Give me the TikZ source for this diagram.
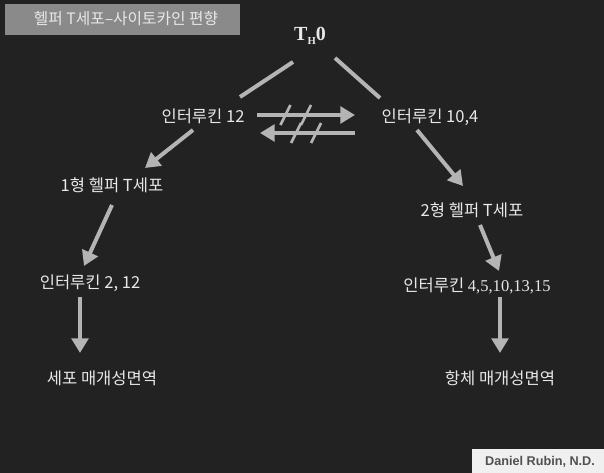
\documentclass[tikz,border=0pt]{standalone}
\usepackage{fontspec}
\setmainfont{Noto Sans CJK KR}
\newfontfamily\serifnum{Liberation Serif}
\newfontfamily\credfont{Liberation Sans}
\usetikzlibrary{arrows.meta,calc}
\definecolor{bgdark}{HTML}{222222}
\definecolor{titlegray}{HTML}{8A8A8A}
\definecolor{arrowgray}{HTML}{B4B4B4}
\definecolor{textlight}{HTML}{E8E8E8}
\definecolor{creditgray}{HTML}{505050}
\tikzset{
  lbl/.style={text=textlight, inner sep=0pt, font=\fontsize{12.4}{14}\selectfont},
  conn/.style={draw=arrowgray, line width=3pt},
  arr/.style={conn, -{Triangle[width=12.5pt,length=11pt]}},
  slashline/.style={draw=arrowgray, line width=2pt},
}
\begin{document}
\begin{tikzpicture}[x=0.75pt,y=-0.75pt]
\fill[bgdark] (0,0) rectangle (604,473);
\useasboundingbox (0,0) rectangle (604,473);
% title
\fill[titlegray] (5,4) rectangle (240,35);
\node[text=textlight, inner sep=0pt, font=\fontsize{11.8}{14}\selectfont] (title) at (126,19) {헬퍼 T세포–사이토카인 편향};
% nodes
\node[text=textlight, inner sep=0pt, font=\serifnum\bfseries\fontsize{15}{17}\selectfont] (th0) at (310,36) {T\raisebox{-0.45ex}{\fontsize{8}{9}\selectfont H}0};
\node[lbl] (il12) at (203,116) {인터루킨 12};
\node[lbl] (il104) at (430,117) {인터루킨 10,4};
\node[lbl] (th1) at (112,185) {1형 헬퍼 T세포};
\node[lbl] (th2) at (472,210) {2형 헬퍼 T세포};
\node[lbl] (il212) at (90,283) {인터루킨 2, 12};
\node[lbl] (il4) at (477,286) {인터루킨 {\serifnum 4,5,10,13,15}};
\node[lbl] (cmi) at (102,378) {세포 매개성면역};
\node[lbl] (hmi) at (500,378) {항체 매개성면역};
% connectors
\draw[conn] ([shift={(-17,26)}]th0.center) -- ([shift={(37,-19)}]il12.center);
\draw[conn] ([shift={(25,22)}]th0.center) -- ([shift={(-50,-19)}]il104.center);
\draw[arr] ([shift={(-10,14)}]il12.center) -- ([shift={(33,-17)}]th1.center);
\draw[arr] ([shift={(0,20)}]th1.center) -- ([shift={(-6,-17)}]il212.center);
\draw[arr] ([shift={(-10,14)}]il212.center) -- ([shift={(-22,-25)}]cmi.center);
\draw[arr] ([shift={(-13,13)}]il104.center) -- ([shift={(-9,-24)}]th2.center);
\draw[arr] ([shift={(8,15)}]th2.center) -- ([shift={(22,-15)}]il4.center);
\draw[arr] ([shift={(23,11)}]il4.center) -- ([shift={(0,-25)}]hmi.center);
% cross-regulation arrows
\draw[arr] ([shift={(54,-1)}]il12.center) -- ([shift={(-75,-2)}]il104.center)
  coordinate[pos=0.29] (s1) coordinate[pos=0.5] (s2);
\draw[arr] ([shift={(-75,16)}]il104.center) -- ([shift={(57,17)}]il12.center)
  coordinate[pos=0.41] (s3) coordinate[pos=0.62] (s4);
\foreach \s in {s1,s2,s3,s4}
  \draw[slashline] ([shift={(-5,10)}]\s) -- ([shift={(5,-10)}]\s);
% credit
\fill[white!94!black] (472,449) rectangle (604,473);
\node[text=creditgray, inner sep=0pt, font=\credfont\bfseries\fontsize{9.5}{11}\selectfont] (credit) at (540,462) {Daniel Rubin, N.D.};
\end{tikzpicture}
\end{document}
